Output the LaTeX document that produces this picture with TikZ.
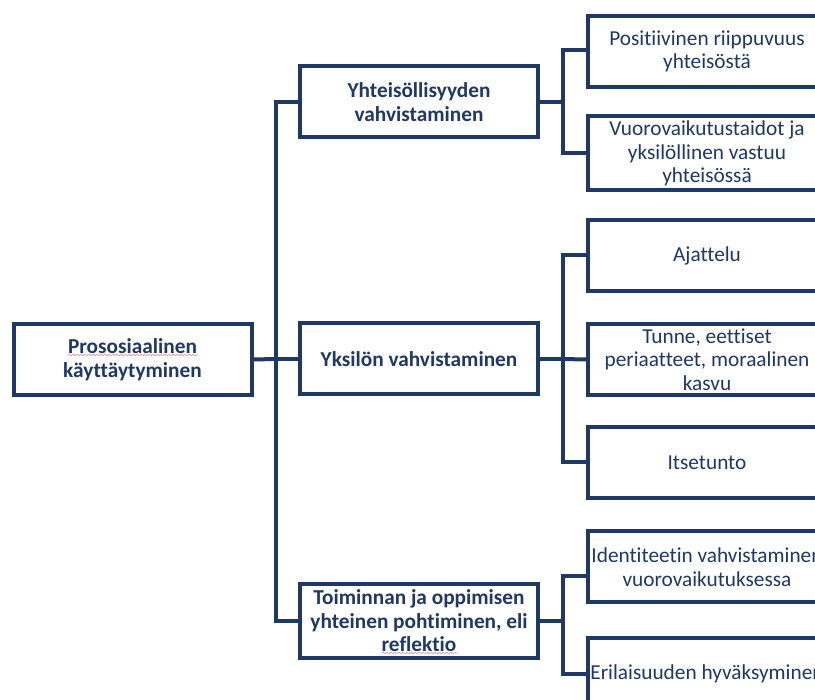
\documentclass[tikz,border=0pt]{standalone}
\usepackage{fontspec}
\setmainfont{Carlito}[Ligatures={NoCommon}]
\usetikzlibrary{decorations.pathmorphing}
\definecolor{navy}{RGB}{31,56,100}
\definecolor{squig}{RGB}{240,140,140}
\tikzset{
  box/.style={draw=navy, line width=4pt, fill=white, text=navy, align=center, inner sep=0pt,
              minimum width=238pt, minimum height=71pt, font=\fontsize{21.3}{23.5}\selectfont},
  headbox/.style={box, font=\fontsize{21.3}{23.5}\selectfont\bfseries},
  link/.style={draw=navy, line width=4pt, line join=miter},
  squiggle/.style={draw=squig, line width=0.6pt, decorate, decoration={snake, segment length=4pt, amplitude=0.7pt}}
}
\begin{document}
\begin{tikzpicture}[x=1pt,y=-1pt]
\useasboundingbox (0,0) rectangle (815,700);
\clip (0,0) rectangle (815,700);
% root
\node[headbox] (root) at (132.5,359.5) {Prososiaalinen\\käyttäytyminen};
% level 1
\node[headbox] (a) at (419,102) {Yhteisöllisyyden\\vahvistaminen};
\node[headbox] (b) at (419,359) {Yksilön vahvistaminen};
\node[headbox, minimum height=74pt] (c) at (419,621) {Toiminnan ja oppimisen\\yhteinen pohtiminen, eli\\reflektio};
% leaves
\node[box] (p1) at (707,51.5) {Positiivinen riippuvuus\\yhteisöstä};
\node[box, minimum height=74pt] (p2) at (707,153.5) {Vuorovaikutustaidot ja\\yksilöllinen vastuu\\yhteisössä};
\node[box] (q1) at (707,255.5) {Ajattelu};
\node[box] (q2) at (707,359.5) {Tunne, eettiset\\periaatteet, moraalinen\\kasvu};
\node[box] (q3) at (707,462.5) {Itsetunto};
\node[box] (r1) at (707,567) {Identiteetin vahvistaminen\\vuorovaikutuksessa};
\node[box] (r2) at (707,674) {Erilaisuuden hyväksyminen};
% coordinates of trunks
\coordinate (t0) at (276,359);
\coordinate (t1) at (563,102);
\coordinate (t2) at (563,359);
\coordinate (t3) at (563,621);
% connectors root -> level 1
\draw[link] (root.east) -- (t0);
\draw[link] (a.west) -| (t0) |- (c.west);
\draw[link] (b.west) -- (t0);
% level 1 -> leaves
\draw[link] (a.east) -- (t1);
\draw[link] ([yshift=1.5pt]p1.west) -| (t1) |- (p2.west);
\draw[link] (b.east) -- (t2);
\draw[link] (q1.west) -| (t2) |- (q3.west);
\draw[link] (q2.west) -- (t2);
\draw[link] (c.east) -- (t3);
\draw[link] ([yshift=-9pt]r1.west) -| (t3) |- (r2.west);
% spell-check squiggles
\draw[squiggle] (68,355) -- (198,355);
\draw[squiggle] (382,653) -- (458,653);
\end{tikzpicture}
\end{document}
